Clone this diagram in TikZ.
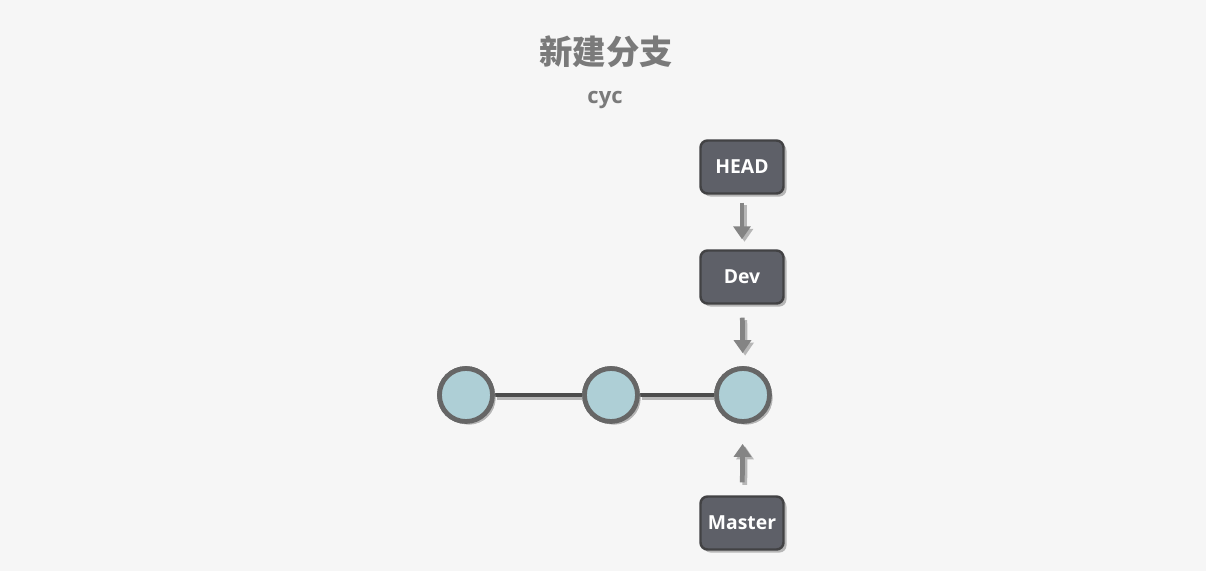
\documentclass[tikz,border=0pt]{standalone}
\usepackage{fontspec}
\setmainfont{Open Sans}
\newfontfamily\cjkfont{Noto Sans CJK SC}
\usepackage{xcolor}
\usetikzlibrary{arrows.meta,positioning,shadows}
\definecolor{pageBg}{RGB}{246,246,246}
\definecolor{titleGray}{RGB}{122,122,122}
\definecolor{boxFill}{RGB}{94,96,104}
\definecolor{boxEdge}{RGB}{66,66,68}
\definecolor{commitFill}{RGB}{174,207,214}
\definecolor{commitEdge}{RGB}{102,102,102}
\definecolor{linkGray}{RGB}{76,76,76}
\definecolor{arrowGray}{RGB}{132,132,132}
\definecolor{shadowGray}{RGB}{182,182,182}
\tikzset{
  softshadow/.style={drop shadow={shadow xshift=0.06cm,shadow yshift=-0.06cm,fill=shadowGray,opacity=1}},
  refbox/.style={rounded corners=4pt,draw=boxEdge,fill=boxFill,line width=1.4pt,minimum width=1.66cm,minimum height=1.06cm,inner sep=0pt,text=white,font=\bfseries\fontsize{11}{13}\selectfont,softshadow},
  commit/.style={circle,draw=commitEdge,fill=commitFill,line width=2.7pt,minimum size=1.06cm,inner sep=0pt,softshadow},
  link/.style={draw=linkGray,line width=2.3pt,preaction={draw=shadowGray,line width=2.3pt,transform canvas={shift={(0.05,-0.05)}}}},
  refarrow/.style={draw=arrowGray,line width=2.7pt,-{Triangle[length=0.26cm,width=0.34cm]},preaction={draw=shadowGray,line width=2.7pt,-{Triangle[length=0.26cm,width=0.34cm]},transform canvas={shift={(0.05,-0.05)}}}}
}
\begin{document}
\begin{tikzpicture}
\fill[pageBg] (0,0) rectangle (24.12,-11.42);
\useasboundingbox (0,0) rectangle (24.12,-11.42);

% title
\node[text=titleGray,font=\cjkfont\bfseries\fontsize{19}{22}\selectfont] (title) at (12.12,-1.04) {新建分支};
\node[text=titleGray,font=\bfseries\fontsize{12.5}{14}\selectfont] (author) at (12.10,-2.00) {cyc};

% references
\node[refbox] (head) at (14.84,-3.34) {HEAD};
\node[refbox] (dev) at (14.84,-5.54) {Dev};
\node[refbox] (master) at (14.84,-10.46) {Master};

% commits
\node[commit] (c1) at (9.32,-7.90) {};
\node[commit] (c2) at (12.22,-7.90) {};
\node[commit] (c3) at (14.86,-7.90) {};
\path[link] (c1) -- (c2);
\path[link] (c2) -- (c3);
\node[commit] at (c1) {};
\node[commit] at (c2) {};
\node[commit] at (c3) {};

% pointers
\path[refarrow,shorten <=0.16cm,shorten >=0.2cm] (head) -- (dev);
\path[refarrow,shorten <=0.26cm,shorten >=0.26cm] (dev) -- (c3);
\path[refarrow,shorten <=0.26cm,shorten >=0.4cm] (master) -- (c3);
\end{tikzpicture}
\end{document}
